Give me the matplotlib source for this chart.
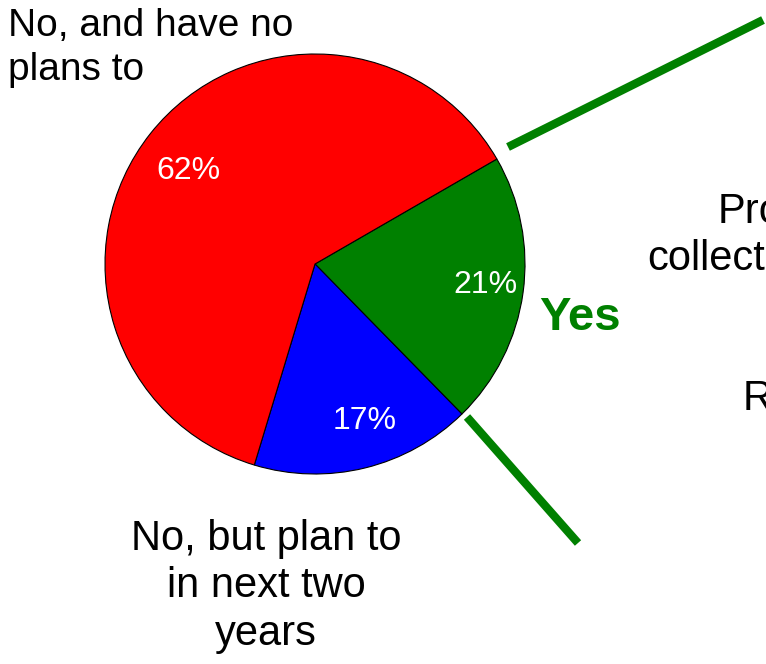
import matplotlib.pyplot as plt

plt.rcParams['font.family'] = ['Liberation Sans', 'DejaVu Sans']

# survey answers, drawn clockwise from the "Yes" slice
answers = ["Yes", "No, but plan to\nin next two\nyears", "No, and have no\nplans to"]
shares = [21, 17, 62]
colors = ["#008000", "#0000FF", "#FF0000"]

# words of the breakdown column, cut off by the right edge
breakdown = ["Pro", "collect", "R"]

W, H = 766, 664
fig = plt.figure(figsize=(W / 100, H / 100), dpi=100)
ax = fig.add_axes([0, 0, 1, 1])

cx, cy, r = 315, H - 264, 210
wedges, texts, pcts = ax.pie(
    shares, colors=colors, startangle=30, counterclock=False,
    radius=r, center=(cx, cy),
    wedgeprops=dict(edgecolor="black", linewidth=0.8),
    autopct=lambda p: f"{p:.0f}%", pctdistance=0.79,
    textprops=dict(color="white", fontsize=23),
)
# percentage spots inside each slice
for t, (px, py) in zip(pcts, [(485, 285), (365, 421), (188, 171)]):
    t.set_position((px, H - py))

ax.set_xlim(0, W)
ax.set_ylim(0, H)
ax.axis("off")

# slice names
ax.text(8, H - 8, answers[2], fontsize=28, ha="left", va="top", linespacing=1.3)
ax.text(266, H - 519, answers[1], fontsize=30, ha="center", va="top",
        multialignment="center", linespacing=1.24)
ax.text(539, H - 330, answers[0], fontsize=34, fontweight="bold",
        color="#008000", ha="left", va="baseline")

# connectors from the "Yes" slice to the breakdown
ax.plot([508, 763], [H - 147, H - 20], color="#008000", lw=6, solid_capstyle="butt")
ax.plot([467, 578], [H - 417, H - 543], color="#008000", lw=6, solid_capstyle="butt")

ax.text(718, H - 223, breakdown[0], fontsize=30, ha="left", va="baseline")
ax.text(647, H - 270, breakdown[1], fontsize=30, ha="left", va="baseline")
ax.text(743, H - 410, breakdown[2], fontsize=30, ha="left", va="baseline")

fig.savefig("out.png", dpi=100)
